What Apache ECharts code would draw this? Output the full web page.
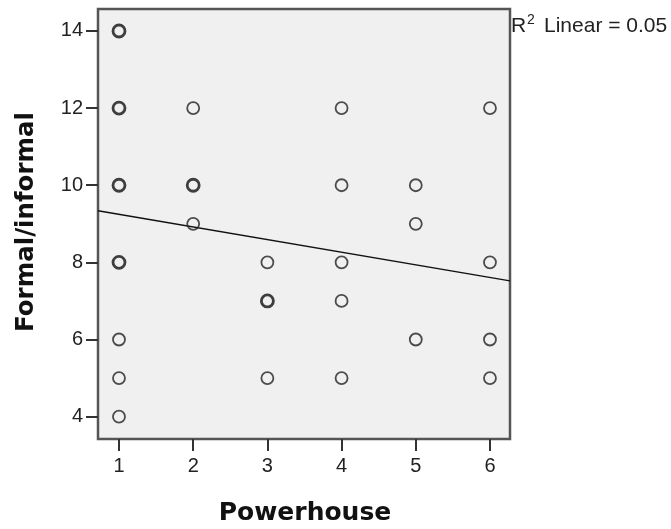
<!DOCTYPE html>
<html>
<head>
<meta charset="utf-8">
<script src="https://cdn.jsdelivr.net/npm/echarts@6/dist/echarts.min.js"></script>
<style>html,body{margin:0;padding:0;background:#fff;}#c{width:671px;height:529px;}</style>
</head>
<body>
<div id="c"></div>
<script>
// Data
const powerhouse = [1,1,1,1,1,1,1, 2,2,2, 3,3,3, 4,4,4,4,4, 5,5,5, 6,6,6,6];
const formalInformal = [14,12,10,8,6,5,4, 12,10,9, 8,7,5, 12,10,8,7,5, 10,9,6, 12,8,6,5];
// 2 = several cases overlap at this spot (drawn bolder)
const overlap = [2,2,2,2,1,1,1, 1,2,1, 1,2,1, 1,1,1,1,1, 1,1,1, 1,1,1,1];
const xTicks = [1,2,3,4,5,6];
const yTicks = [4,6,8,10,12,14];
const fitX = [0.717, 6.27];
const fitY = [9.34, 7.52];
const r2Label = 'Linear = 0.05';

const single = [], multi = [];
powerhouse.forEach((x, i) => {
  (overlap[i] > 1 ? multi : single).push([x, formalInformal[i]]);
});

const chart = echarts.init(document.getElementById('c'));
const labelStyle = {fontFamily: 'Liberation Sans', fontSize: 20, color: '#222'};
chart.setOption({
  animation: false,
  backgroundColor: '#fff',
  grid: {left: 98, top: 9, width: 412, height: 430, show: true,
         backgroundColor: '#f0f0f0', borderColor: '#555', borderWidth: 2.5},
  xAxis: {
    type: 'value', min: 0.717, max: 6.27,
    axisLine: {show: false},
    splitLine: {show: false},
    axisTick: {show: true, length: 12, inside: false, customValues: xTicks,
               lineStyle: {color: '#333', width: 2}},
    axisLabel: Object.assign({margin: 17, customValues: xTicks}, labelStyle)
  },
  yAxis: {
    type: 'value', min: 3.42, max: 14.57,
    axisLine: {show: false},
    splitLine: {show: false},
    axisTick: {show: true, length: 12, inside: false, customValues: yTicks,
               lineStyle: {color: '#333', width: 2}},
    axisLabel: Object.assign({margin: 15, customValues: yTicks}, labelStyle)
  },
  series: [
    {type: 'line', data: fitX.map((x, i) => [x, fitY[i]]), showSymbol: false,
     symbol: 'none', lineStyle: {color: '#111', width: 1.5}, z: 2},
    {type: 'scatter', data: single, symbol: 'circle', symbolSize: 12,
     itemStyle: {color: 'rgba(0,0,0,0)', borderColor: '#222', borderWidth: 1.8}, z: 3},
    {type: 'scatter', data: multi, symbol: 'circle', symbolSize: 12,
     itemStyle: {color: 'rgba(0,0,0,0)', borderColor: '#111', borderWidth: 2.8}, z: 3}
  ],
  graphic: [
    {type: 'text', left: null, x: 305, y: 513,
     style: {text: 'Powerhouse', fontFamily: 'DejaVu Sans', fontWeight: 'bold', fontSize: 25,
             fill: '#111', align: 'center', verticalAlign: 'middle'}},
    {type: 'text', x: 27, y: 222, rotation: Math.PI / 2,
     style: {text: 'Formal/informal', fontFamily: 'DejaVu Sans', fontWeight: 'bold', fontSize: 24.5,
             fill: '#111', align: 'center', verticalAlign: 'middle'}},
    {type: 'text', x: 511, y: 26,
     style: {text: 'R', fontFamily: 'Liberation Sans', fontSize: 21, fill: '#222',
             align: 'left', verticalAlign: 'middle'}},
    {type: 'text', x: 527, y: 20,
     style: {text: '2', fontFamily: 'Liberation Sans', fontSize: 14, fill: '#222',
             align: 'left', verticalAlign: 'middle'}},
    {type: 'text', x: 544, y: 26,
     style: {text: r2Label, fontFamily: 'Liberation Sans', fontSize: 21, fill: '#222',
             align: 'left', verticalAlign: 'middle'}}
  ]
});
</script>
</body>
</html>
